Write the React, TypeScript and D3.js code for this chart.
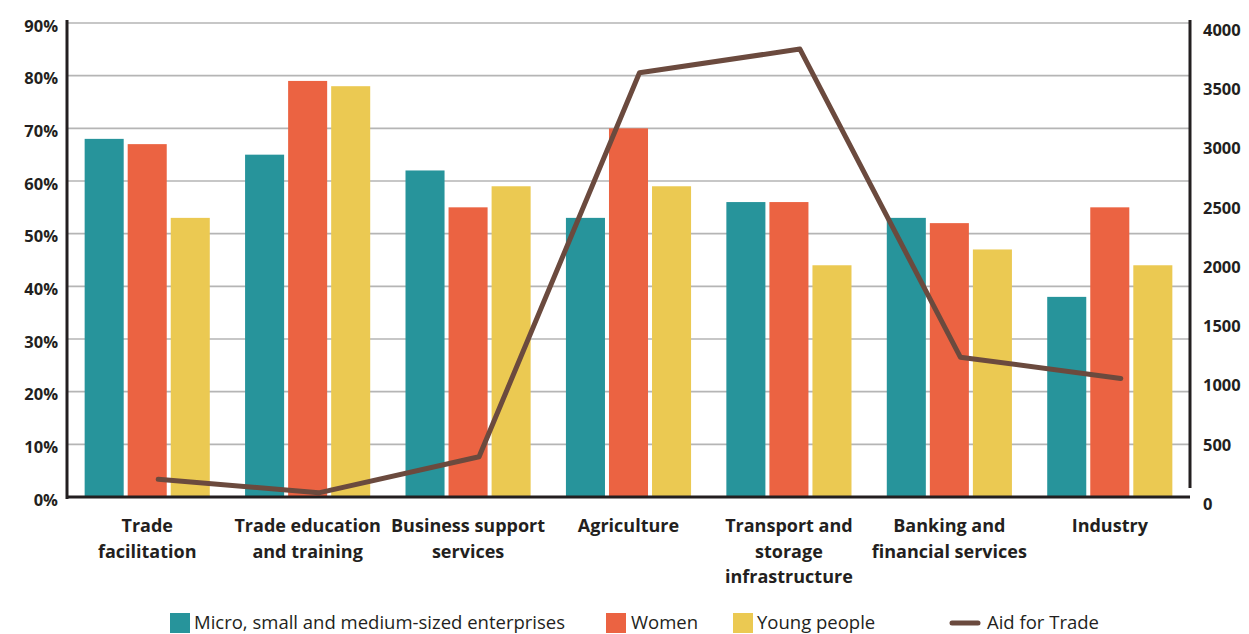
import React from "react";
import * as d3 from "d3";

const categories = [
  "Trade facilitation",
  "Trade education and training",
  "Business support services",
  "Agriculture",
  "Transport and storage infrastructure",
  "Banking and financial services",
  "Industry",
];
const categoryLines = [
  ["Trade", "facilitation"],
  ["Trade education", "and training"],
  ["Business support", "services"],
  ["Agriculture"],
  ["Transport and", "storage", "infrastructure"],
  ["Banking and", "financial services"],
  ["Industry"],
];
const seriesNames = ["Micro, small and medium-sized enterprises", "Women", "Young people"];
const msme = [68, 65, 62, 53, 56, 53, 38];
const women = [67, 79, 55, 70, 56, 52, 55];
const youth = [53, 78, 59, 59, 44, 47, 44];
const aidForTrade = [150, 35, 340, 3580, 3780, 1180, 1000];
const leftTicks = [0, 10, 20, 30, 40, 50, 60, 70, 80, 90];
const rightTicks = [0, 500, 1000, 1500, 2000, 2500, 3000, 3500, 4000];
const lineName = "Aid for Trade";

const colors = ["#27949b", "#eb6342", "#ebc952"];
const lineColor = "#6b4a3e";

export default function App() {
  const W = 1249, H = 634;
  const left = 67, right = 1190, top = 23, bottom = 497;
  const x0 = d3.scaleBand().domain(categories).range([left, right]).paddingInner(0.22).paddingOuter(0.11);
  const x1 = d3.scaleBand().domain(seriesNames).range([0, x0.bandwidth()]).paddingInner(0.093);
  const y = d3.scaleLinear().domain([0, 90]).range([bottom, top]);
  const yR = d3.scaleLinear().domain([0, 4000]).range([bottom, top]);
  const series = [msme, women, youth];
  const lineOffset = 11;
  const line = d3
    .line<number>()
    .x((_, i) => (x0(categories[i]) as number) + x0.bandwidth() / 2 + lineOffset)
    .y((d) => yR(d));
  const font = "'Open Sans', sans-serif";
  const dark = "#231f20";

  const legendItems = [
    { type: "rect", color: colors[0], label: seriesNames[0], sx: 170, tx: 194 },
    { type: "rect", color: colors[1], label: seriesNames[1], sx: 606, tx: 631 },
    { type: "rect", color: colors[2], label: seriesNames[2], sx: 733, tx: 757 },
    { type: "line", color: lineColor, label: lineName, sx: 952, tx: 987 },
  ];

  return (
    <svg width={W} height={H} style={{ position: "absolute", left: 0, top: 0, background: "#fff" }}>
      {leftTicks.slice(1).map((t) => (
        <line key={"g" + t} x1={left} x2={right} y1={y(t)} y2={y(t)} stroke="#b5b5b5" strokeWidth={1.6} />
      ))}
      {series.map((vals, si) =>
        vals.map((v, ci) => (
          <rect
            key={si + "-" + ci}
            x={(x0(categories[ci]) as number) + (x1(seriesNames[si]) as number)}
            y={y(v)}
            width={x1.bandwidth()}
            height={bottom - y(v)}
            fill={colors[si]}
          />
        ))
      )}
      <path d={line(aidForTrade) || ""} fill="none" stroke={lineColor} strokeWidth={5} strokeLinecap="round" strokeLinejoin="round" />
      <line x1={left} x2={left} y1={top - 3} y2={bottom + 2} stroke={dark} strokeWidth={3} />
      <line x1={left} x2={right} y1={bottom} y2={bottom} stroke={dark} strokeWidth={3} />
      <line x1={right} x2={right} y1={top - 3} y2={bottom - 9} stroke={dark} strokeWidth={3} />
      {leftTicks.map((t) => (
        <text key={"l" + t} x={58} y={y(t) + 3} dy="0.35em" textAnchor="end" fontFamily={font} fontWeight={700} fontSize={16.5} fill={dark}>
          {t + "%"}
        </text>
      ))}
      {rightTicks.map((t) => (
        <text key={"r" + t} x={1203} y={yR(t) + 7} dy="0.35em" textAnchor="start" fontFamily={font} fontWeight={700} fontSize={16.5} fill={dark}>
          {t}
        </text>
      ))}
      {categories.map((c, ci) => (
        <text key={"c" + c} textAnchor="middle" fontFamily={font} fontWeight={700} fontSize={18} fill={dark}>
          {categoryLines[ci].map((ln, li) => (
            <tspan key={li} x={(x0(c) as number) + x0.bandwidth() / 2} y={532 + li * 25.5}>
              {ln}
            </tspan>
          ))}
        </text>
      ))}
      {legendItems.map((it) => (
        <g key={it.label}>
          {it.type === "rect" ? (
            <rect x={it.sx} y={613} width={20} height={20} fill={it.color} />
          ) : (
            <line x1={it.sx} x2={it.sx + 26} y1={623} y2={623} stroke={it.color} strokeWidth={5} strokeLinecap="round" />
          )}
          <text x={it.tx} y={628.5} fontFamily={font} fontSize={18.5} fill={dark}>
            {it.label}
          </text>
        </g>
      ))}
    </svg>
  );
}
